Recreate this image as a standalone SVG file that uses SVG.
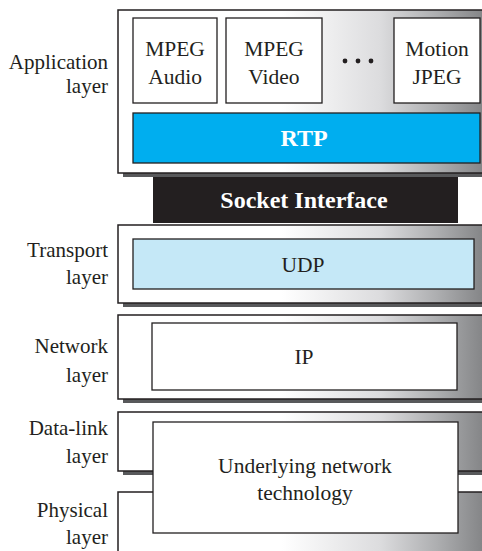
<svg xmlns="http://www.w3.org/2000/svg" width="482" height="551" viewBox="0 0 482 551">
<defs>
<linearGradient id="lg" gradientUnits="userSpaceOnUse" x1="118" y1="0" x2="482" y2="0">
<stop offset="0" stop-color="#ffffff"/>
<stop offset="0.45" stop-color="#ffffff"/>
<stop offset="0.72" stop-color="#dcdcde"/>
<stop offset="0.88" stop-color="#acadaf"/>
<stop offset="1" stop-color="#858688"/>
</linearGradient>
<style>
text{font-family:"Liberation Serif","Times New Roman",Times,"Nimbus Roman","DejaVu Serif",serif}
.layer{fill:url(#lg);stroke:#231f20;stroke-width:1.5}
.shadow{fill:#58595b}
.box{fill:#fff;stroke:#231f20;stroke-width:1.3}
.t{font-size:21.5px;fill:#231f20;text-anchor:middle}
.lbl{font-size:21px;fill:#231f20;text-anchor:end}
.b{font-size:24px;font-weight:bold;fill:#fff;text-anchor:middle}
</style>
</defs>
<g id="labels">
<text class="lbl" x="108" y="69">Application</text>
<text class="lbl" x="108" y="93">layer</text>
<text class="lbl" x="108" y="257">Transport</text>
<text class="lbl" x="108" y="284">layer</text>
<text class="lbl" x="108" y="353">Network</text>
<text class="lbl" x="108" y="382">layer</text>
<text class="lbl" x="108" y="435">Data-link</text>
<text class="lbl" x="108" y="463">layer</text>
<text class="lbl" x="108" y="517">Physical</text>
<text class="lbl" x="108" y="544">layer</text>
</g>
<g id="socket">
<rect x="153" y="175" width="305" height="48" fill="#231f20"/>
<text class="b" x="304" y="208">Socket Interface</text>
</g>
<g id="application">
<rect class="shadow" x="123" y="14" width="370" height="163"/>
<rect class="layer" x="118" y="10" width="370" height="163"/>
<g id="mpeg-audio">
<rect class="box" x="133" y="18" width="84" height="85"/>
<text class="t" x="175" y="56">MPEG</text>
<text class="t" x="175" y="84">Audio</text>
</g>
<g id="mpeg-video">
<rect class="box" x="226" y="18" width="96" height="85"/>
<text class="t" x="274" y="56">MPEG</text>
<text class="t" x="274" y="84">Video</text>
</g>
<g id="dots" fill="#231f20">
<circle cx="345" cy="61" r="2.4"/>
<circle cx="358" cy="61" r="2.4"/>
<circle cx="371" cy="61" r="2.4"/>
</g>
<g id="motion-jpeg">
<rect class="box" x="394" y="18" width="86" height="85"/>
<text class="t" x="437" y="56">Motion</text>
<text class="t" x="437" y="84">JPEG</text>
</g>
<g id="rtp">
<rect x="133" y="113" width="347" height="50" fill="#00aeef" stroke="#231f20" stroke-width="1.3"/>
<text class="b" x="304" y="146">RTP</text>
</g>
</g>
<g id="transport">
<rect class="shadow" x="123" y="229" width="370" height="78"/>
<rect class="layer" x="118" y="225" width="370" height="78"/>
<g id="udp">
<rect x="133" y="239" width="341" height="50" fill="#c5e8f7" stroke="#231f20" stroke-width="1.3"/>
<text class="t" x="303" y="272">UDP</text>
</g>
</g>
<g id="network">
<rect class="shadow" x="123" y="319" width="370" height="84"/>
<rect class="layer" x="118" y="315" width="370" height="84"/>
<g id="ip">
<rect class="box" x="152" y="323" width="305" height="67"/>
<text class="t" x="304" y="364">IP</text>
</g>
</g>
<g id="datalink">
<rect class="shadow" x="123" y="416" width="370" height="59"/>
<rect class="layer" x="118" y="412" width="370" height="59"/>
</g>
<g id="physical">
<rect class="layer" x="118" y="492" width="370" height="70"/>
</g>
<g id="underlying">
<rect class="box" x="153" y="422" width="305" height="111"/>
<text class="t" x="305" y="473">Underlying network</text>
<text class="t" x="305" y="500">technology</text>
</g>
<g id="connectors"/>
</svg>
